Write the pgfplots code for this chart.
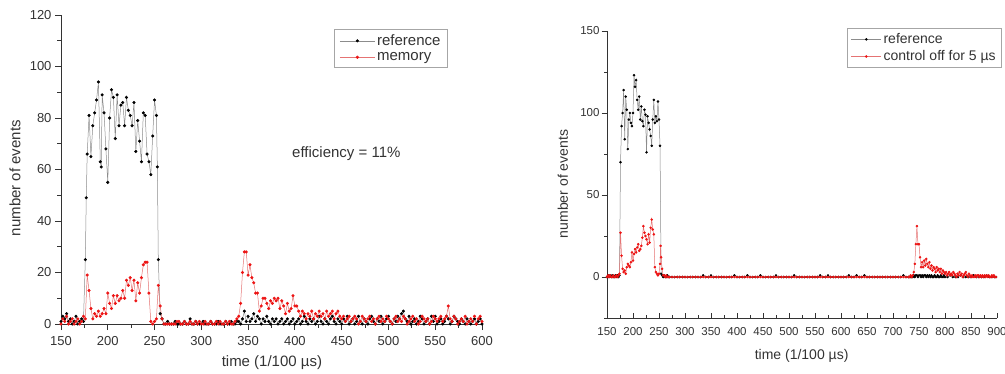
\documentclass[border=0pt]{standalone}
\usepackage{fontspec}
\setmainfont{Liberation Sans}
\usepackage{pgfplots}
\usepackage{pgfplotstable}
\pgfplotsset{compat=1.18}
\definecolor{axcol}{rgb}{0.2,0.2,0.2}
\definecolor{blkline}{rgb}{0.55,0.55,0.55}
\definecolor{redline}{rgb}{0.9,0.45,0.45}
\definecolor{redmark}{rgb}{0.93,0.08,0.08}

\pgfplotstableread{
x y
150 1
152 3
154 2
156 4
158 1
160 2
162 0
164 1
166 3
168 0
170 1
172 2
174 1
176 25
177 49
178 66
180 81
182 65
184 77
186 82
188 87
190 94
192 63
193 61
194 89
196 82
198 68
200 55
202 80
204 91
206 88
208 72
210 89
212 77
214 85
216 86
218 77
220 88
222 83
224 81
226 77
228 86
230 67
232 79
234 71
236 63
238 82
240 81
242 66
244 63
246 58
248 73
250 87
252 81
253 61
254 25
256 4
258 2
260 0
262 0
264 1
266 0
268 0
270 0
272 1
274 0
276 0
278 0
280 0
282 1
284 0
286 0
288 2
290 0
292 0
294 1
296 0
298 0
300 0
302 1
304 0
306 0
308 0
310 1
312 0
314 0
316 0
318 1
320 0
322 0
324 0
326 1
328 0
330 0
332 1
334 0
336 0
338 1
340 1
342 0
344 2
346 5
348 1
350 3
352 1
354 2
356 4
358 1
360 3
362 2
364 0
366 2
368 1
370 3
372 1
374 0
376 2
378 1
380 2
382 0
384 1
386 2
388 0
390 1
392 2
394 0
396 1
398 2
400 0
402 1
404 2
406 0
408 1
410 3
412 1
414 0
416 2
418 1
420 2
422 0
424 1
426 3
428 1
430 0
432 2
434 1
436 0
438 2
440 3
442 1
444 0
446 2
448 1
450 0
452 2
454 1
456 3
458 0
460 1
462 2
464 0
466 1
468 3
470 1
472 0
474 2
476 1
478 0
480 2
482 3
484 1
486 0
488 2
490 1
492 3
494 0
496 1
498 2
500 3
502 1
504 0
506 2
508 1
510 3
512 2
514 4
516 5
518 2
520 1
522 3
524 0
526 1
528 2
530 0
532 1
534 3
536 2
538 0
540 1
542 2
544 0
546 3
548 1
550 3
552 0
554 1
556 2
558 0
560 1
562 3
564 2
566 0
568 1
570 3
572 2
574 1
576 0
578 2
580 1
582 0
584 2
586 1
588 0
590 1
592 2
594 0
596 1
598 2
600 0
}\LB

\pgfplotstableread{
x y
150 0
152 2
154 1
156 3
158 0
160 1
162 2
164 0
166 1
168 2
170 0
172 1
174 3
176 2
178 19
180 13
182 6
184 2
186 4
188 3
190 5
192 3
194 4
196 6
198 4
200 12
202 8
204 6
206 11
208 8
210 11
212 9
214 10
216 13
218 10
220 17
222 15
224 18
226 13
228 17
230 9
232 16
234 12
236 18
238 23
240 24
242 24
244 12
246 1
248 0
250 1
252 2
254 15
256 7
258 2
260 0
262 0
264 0
266 0
268 0
270 0
272 0
274 1
276 1
278 0
280 0
282 1
284 0
286 0
288 1
290 0
292 0
294 1
296 0
298 1
300 0
302 0
304 1
306 0
308 0
310 1
312 0
314 0
316 1
318 0
320 1
322 0
324 0
326 1
328 0
330 1
332 0
334 0
336 1
338 2
340 3
342 8
344 20
346 28
348 28
350 19
352 23
354 18
356 16
358 12
360 12
362 5
364 7
366 10
368 10
370 8
372 6
374 9
376 8
378 10
380 9
382 10
384 6
386 9
388 7
390 4
392 8
394 5
396 6
398 11
400 7
402 7
404 5
406 3
408 5
410 4
412 2
414 4
416 3
418 5
420 2
422 4
424 3
426 5
428 3
430 4
432 2
434 5
436 3
438 4
440 5
442 2
444 4
446 5
448 3
450 2
452 3
454 1
456 2
458 3
460 1
462 2
464 3
466 2
468 0
470 1
472 3
474 2
476 1
478 2
480 3
482 1
484 2
486 0
488 2
490 3
492 1
494 2
496 1
498 3
500 2
502 1
504 0
506 2
508 3
510 1
512 2
514 1
516 3
518 2
520 0
522 1
524 2
526 3
528 1
530 2
532 0
534 1
536 3
538 2
540 1
542 2
544 0
546 1
548 3
550 2
552 1
554 2
556 3
558 1
560 2
562 3
564 7
566 2
568 1
570 3
572 2
574 0
576 1
578 2
580 1
582 3
584 0
586 1
588 2
590 1
592 3
594 0
596 2
598 3
600 1
}\LR

\pgfplotstableread{
x y
150 0
152 1
154 0
156 1
158 0
160 1
162 0
164 0
166 1
168 0
170 1
172 0
174 1
176 70
178 92
180 100
182 114
184 84
186 110
188 102
190 78
192 96
194 100
196 94
198 92
200 100
202 123
204 116
206 120
208 108
210 102
212 110
214 96
216 104
218 95
220 92
222 102
224 99
226 76
228 98
230 94
232 90
234 86
236 80
238 96
240 108
242 94
244 98
246 95
248 107
250 96
252 80
254 2
256 1
258 0
260 1
262 0
264 0
266 1
268 0
270 0
275 0
280 0
285 0
290 0
295 0
300 0
305 0
310 0
315 0
320 0
325 0
330 0
335 1
340 0
345 0
350 1
355 0
360 0
365 0
370 0
375 0
380 0
385 0
390 0
395 1
400 0
405 0
410 0
415 0
420 1
425 0
430 0
435 0
440 0
445 1
450 0
455 0
460 0
465 0
470 0
475 1
480 0
485 0
490 0
495 0
500 0
505 0
510 1
515 0
520 0
525 0
530 0
535 0
540 0
545 0
550 0
555 0
560 1
565 0
570 0
575 1
580 0
585 0
590 0
595 0
600 0
605 0
610 0
615 1
620 0
625 0
630 1
635 0
640 0
645 1
650 0
655 0
660 0
665 0
670 0
675 0
680 0
685 0
690 0
695 0
700 0
705 0
710 0
715 0
720 1
725 0
730 0
732 0
734 0
736 0
738 0
740 1
742 0
744 1
746 1
748 0
750 1
752 1
754 0
756 1
758 0
760 1
762 1
764 0
766 1
768 0
770 1
772 0
774 1
776 0
778 0
780 1
782 0
784 0
786 1
788 0
790 0
792 1
794 0
796 0
798 1
800 0
805 0
810 1
815 0
820 0
825 0
830 1
835 0
840 0
845 0
850 0
855 1
860 0
865 0
870 0
875 0
880 1
885 0
890 0
895 0
898 0
}\RB

\pgfplotstableread{
x y
150 0
152 1
154 0
156 1
158 0
160 0
162 1
164 0
166 0
168 1
170 0
172 1
174 2
176 27
178 13
180 5
182 3
184 4
186 2
188 6
190 8
192 7
194 6
196 9
198 15
200 10
202 14
204 17
206 15
208 18
210 20
212 16
214 17
216 19
218 24
220 31
222 27
224 25
226 23
228 20
230 26
232 21
234 30
236 35
238 29
240 26
242 6
244 3
246 2
248 1
250 2
252 8
253 19
254 12
256 5
258 1
260 1
262 0
264 1
266 0
268 0
270 0
275 0
280 0
285 0
290 0
295 0
300 0
305 0
310 0
315 0
320 0
325 0
330 0
335 0
340 0
345 0
350 0
355 0
360 0
365 0
370 0
375 0
380 0
385 0
390 0
395 0
400 0
405 0
410 0
415 0
420 0
425 0
430 0
435 0
440 0
445 0
450 0
455 0
460 0
465 0
470 0
475 0
480 0
485 0
490 0
495 0
500 0
505 0
510 0
515 0
520 0
525 0
530 0
535 0
540 0
545 0
550 0
555 0
560 0
565 0
570 0
575 0
580 0
585 0
590 0
595 0
600 0
605 0
610 0
615 0
620 0
625 0
630 0
635 0
640 0
645 0
650 0
655 0
660 0
665 0
670 0
675 0
680 0
685 0
690 0
695 0
700 0
705 0
710 0
715 0
720 0
725 0
730 0
732 0
734 1
736 0
738 1
740 3
742 8
744 20
746 31
748 20
750 20
752 12
754 6
756 9
758 6
760 10
762 7
764 11
766 8
768 6
770 9
772 5
774 7
776 4
778 6
780 5
782 3
784 6
786 4
788 5
790 3
792 5
794 2
796 4
798 3
800 2
802 3
804 1
806 2
808 3
810 1
812 2
814 1
816 3
818 2
820 1
822 0
824 2
826 1
828 3
830 1
832 2
834 0
836 1
838 2
840 3
842 1
844 0
846 2
848 1
850 0
852 1
854 0
856 0
858 1
860 0
862 1
864 1
866 0
868 1
870 0
872 1
874 0
876 1
878 0
880 1
882 0
884 1
886 0
888 0
890 1
892 0
894 1
896 0
898 0
}\RR

\pgfplotsset{
  mylegend/.style={legend image code/.code={\draw[mark repeat=2,mark phase=2,##1] plot coordinates {(0pt,0pt) (#1,0pt) (2*#1,0pt)};}},
  common/.style={
    scale only axis,
    axis x line*=bottom, axis y line*=left,
    every outer x axis line/.append style={-},
    every outer y axis line/.append style={-},
    axis line style={-, line width=0.9pt, axcol},
    tick style={line width=0.9pt, axcol},
    /pgf/number format/assume math mode=true,
    legend cell align=left,
    clip=false,
  },
}

\begin{document}
\begin{tikzpicture}
\path[use as bounding box] (0,0) rectangle (1005pt,373pt);

\begin{axis}[common,
  at={(61pt,49pt)}, anchor=south west,
  width=421pt, height=309pt,
  xmin=150, xmax=600, ymin=0, ymax=120,
  xtick={150,200,...,600}, minor xtick={175,225,...,575},
  ytick={0,20,...,120}, minor ytick={10,30,...,110},
  tick align=outside, major tick length=6pt, minor tick length=3.5pt,
  tick label style={font=\fontsize{13}{15}\selectfont, text=axcol},
  xticklabel style={yshift=-3pt},
  label style={font=\fontsize{15}{18}\selectfont, text=axcol},
  xlabel={time (1/100 µs)}, ylabel={number of events},
  xlabel style={at={(axis description cs:0.501,-0.126)}, anchor=center},
  ylabel style={at={(axis description cs:-0.109,0.472)}, anchor=center},
  mylegend=17.5pt,
  legend style={at={(0.919,0.954)}, anchor=north east, draw=gray!70, line width=0.8pt,
    font=\fontsize{15}{17}\selectfont, text=axcol, inner xsep=5pt, inner ysep=3pt, row sep=1.5pt},
]
\addplot[color=blkline, line width=0.5pt, mark=*, mark size=1.3pt, mark options={fill=black, draw=black}] table {\LB};
\addlegendentry{reference}
\addplot[color=redline, line width=0.5pt, mark=*, mark size=1.3pt, mark options={fill=redmark, draw=redmark}] table {\LR};
\addlegendentry{memory}
\node[font=\fontsize{15}{18}\selectfont, text=axcol] at (axis cs:455,66) {efficiency = 11\%};
\end{axis}

\begin{axis}[common,
  at={(607pt,55pt)}, anchor=south west,
  width=390pt, height=287pt,
  xmin=150, xmax=900, ymin=-25, ymax=150,
  xtick={150,200,...,900}, minor xtick={175,225,...,875},
  ytick={0,50,100,150}, minor ytick={-25,25,75,125},
  tick align=inside, major tick length=5.5pt, minor tick length=3pt,
  major y tick style={xshift=-5.5pt}, minor y tick style={xshift=-3pt},
  tick label style={font=\fontsize{11.5}{13}\selectfont, text=axcol},
  xticklabel style={yshift=-6pt},
  label style={font=\fontsize{14}{17}\selectfont, text=axcol},
  xlabel={time (1/100 µs)}, ylabel={number of events},
  xlabel style={at={(axis description cs:0.499,-0.132)}, anchor=center},
  ylabel style={at={(axis description cs:-0.113,0.467)}, anchor=center},
  yticklabel style={xshift=-4pt},
  mylegend=15pt,
  legend style={at={(1.013,1.010)}, anchor=north east, draw=gray!70, line width=0.8pt,
    font=\fontsize{14}{16}\selectfont, text=axcol, inner xsep=4pt, inner ysep=3pt, row sep=1.5pt},
]
\addplot[color=blkline, line width=0.5pt, mark=*, mark size=1pt, mark options={fill=black, draw=black}] table {\RB};
\addlegendentry{reference}
\addplot[color=redline, line width=0.5pt, mark=*, mark size=1pt, mark options={fill=redmark, draw=redmark}] table {\RR};
\addlegendentry{control off for 5 µs}
\end{axis}
\end{tikzpicture}
\end{document}
